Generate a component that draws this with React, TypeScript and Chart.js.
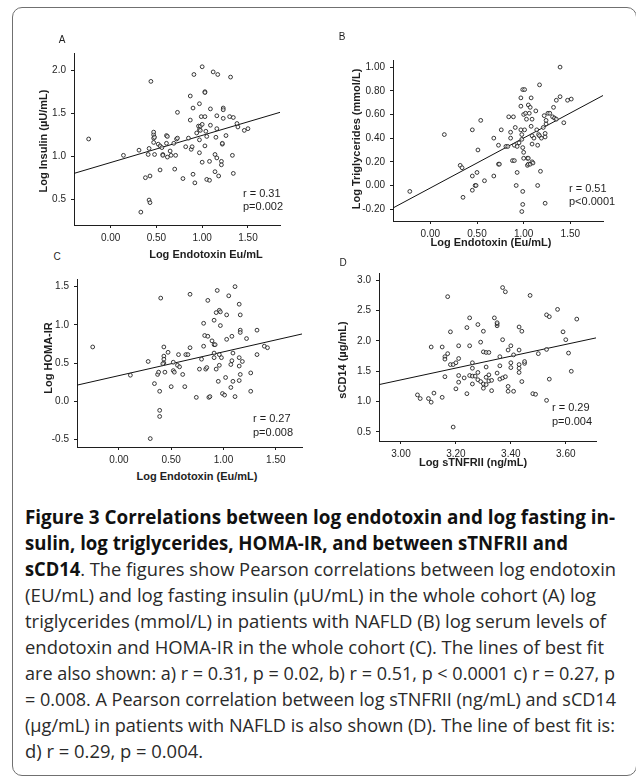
import React, { useEffect, useLayoutEffect, useRef } from "react";
import { Chart, registerables } from "chart.js";

Chart.register(...registerables);

// ---------- Panel A: log endotoxin vs log insulin ----------
const endotoxinA = [
  -0.24, 0.14, 0.31, 0.41, 0.42, 0.38, 0.43, 0.42, 0.43, 0.33,
  0.44, 0.47, 0.47, 0.47, 0.48, 0.47, 0.48, 0.52, 0.54, 0.56,
  0.57, 0.57, 0.54, 0.61, 0.61, 0.62, 0.62, 0.65, 0.66, 0.69,
  0.70, 0.71, 0.72, 0.73, 0.73, 0.79, 0.82, 0.85, 0.87, 0.87,
  0.88, 0.89, 0.90, 0.91, 0.90, 0.92, 0.94, 0.96, 0.97, 0.97,
  0.97, 0.97, 0.98, 0.99, 1.00, 1.00, 1.03, 1.03, 1.03, 1.03,
  1.04, 1.05, 1.05, 1.08, 1.08, 1.09, 1.09, 1.12, 1.14, 1.14,
  1.15, 1.16, 1.16, 1.16, 1.17, 1.18, 1.21, 1.21, 1.22, 1.23,
  1.23, 1.23, 1.26, 1.30, 1.31, 1.33, 1.34, 1.34, 1.38, 1.39,
  1.46, 1.50, 0.98, 1.00, 1.22,
];
const insulinA = [
  1.20, 1.01, 1.07, 1.02, 1.09, 0.75, 0.77, 0.49, 0.46, 0.35,
  1.87, 1.25, 1.28, 1.21, 1.22, 1.16, 1.02, 1.14, 1.12, 1.10,
  1.02, 1.01, 0.84, 1.15, 1.24, 1.23, 0.99, 1.06, 1.01, 1.15,
  0.85, 1.01, 1.20, 1.21, 1.51, 0.74, 1.11, 1.21, 1.42, 1.70,
  1.08, 1.11, 1.56, 1.95, 0.79, 0.69, 1.27, 1.35, 1.04, 1.61,
  1.19, 1.31, 1.35, 1.46, 2.04, 0.93, 1.46, 1.75, 1.74, 1.12,
  1.29, 1.23, 0.73, 0.72, 0.94, 1.36, 1.55, 1.98, 1.02, 0.82,
  1.22, 1.47, 1.32, 0.98, 1.95, 0.77, 0.94, 0.90, 1.14, 1.56,
  1.54, 1.44, 1.24, 1.46, 1.92, 1.01, 1.45, 0.80, 1.38, 1.34,
  1.30, 1.32, 1.30, 1.37, 1.15,
];
const fitXA = [-0.4, 1.85];
const fitYA = [0.8, 1.51];
const xTicksA = [0, 0.5, 1.0, 1.5];
const yTicksA = [0.5, 1.0, 1.5, 2.0];

// ---------- Panel B: log endotoxin vs log triglycerides ----------
const endotoxinB = [
  -0.22, 0.15, 0.32, 0.34, 0.35, 0.45, 0.45, 0.45, 0.48, 0.49,
  0.50, 0.51, 0.54, 0.58, 0.68, 0.68, 0.73, 0.74, 0.73, 0.76,
  0.81, 0.83, 0.84, 0.86, 0.86, 0.88, 0.89, 0.90, 0.90, 0.91,
  0.92, 0.93, 0.93, 0.95, 0.97, 0.97, 0.97, 0.98, 0.98, 0.99,
  0.99, 0.99, 0.98, 0.99, 1.01, 1.00, 1.00, 1.00, 1.01, 1.02,
  1.03, 1.04, 1.04, 1.05, 1.05, 1.05, 1.06, 1.07, 1.07, 1.08,
  1.08, 1.09, 1.09, 1.09, 1.09, 1.10, 1.11, 1.13, 1.14, 1.15,
  1.15, 1.16, 1.17, 1.17, 1.18, 1.19, 1.21, 1.22, 1.23, 1.23,
  1.23, 1.24, 1.24, 1.26, 1.28, 1.31, 1.32, 1.33, 1.35, 1.35,
  1.39, 1.39, 1.43, 1.47, 1.51,
];
const triglyceridesB = [
  -0.05, 0.43, 0.17, 0.15, -0.10, 0.08, -0.04, 0.47, 0.00, 0.00,
  0.11, 0.30, 0.55, 0.04, 0.08, 0.40, 0.18, 0.18, 0.34, 0.47,
  0.33, 0.33, 0.58, 0.40, 0.45, 0.21, 0.58, 0.34, 0.21, 0.49,
  0.00, 0.11, 0.33, 0.36, 0.74, 0.67, 0.47, 0.43, 0.39, 0.32,
  -0.05, -0.16, -0.22, 0.81, 0.81, 0.60, 0.28, 0.23, 0.47, 0.61,
  0.56, 0.23, 0.17, 0.68, 0.23, 0.18, 0.61, 0.18, 0.66, 0.74,
  0.50, 0.42, 0.35, 0.56, 0.20, 0.19, 0.40, 0.63, 0.47, 0.00,
  0.34, 0.43, 0.85, 0.42, 0.12, 0.40, 0.49, 0.59, 0.41, 0.44,
  -0.15, 0.52, 0.55, 0.61, 0.61, 0.58, 0.66, 0.57, 0.72, 0.56,
  0.75, 1.00, 0.53, 0.72, 0.73,
];
const fitXB = [-0.4, 1.85];
const fitYB = [-0.19, 0.76];
const xTicksB = [0, 0.5, 1.0, 1.5];
const yTicksB = [-0.2, 0, 0.2, 0.4, 0.6, 0.8, 1.0];

// ---------- Panel C: log endotoxin vs log HOMA-IR ----------
const endotoxinC = [
  -0.25, 0.11, 0.28, 0.34, 0.30, 0.37, 0.38, 0.39, 0.39, 0.39,
  0.40, 0.43, 0.43, 0.43, 0.43, 0.44, 0.42, 0.47, 0.50, 0.52,
  0.53, 0.52, 0.57, 0.56, 0.58, 0.61, 0.63, 0.64, 0.66, 0.68,
  0.68, 0.74, 0.77, 0.79, 0.81, 0.81, 0.82, 0.83, 0.84, 0.85,
  0.85, 0.86, 0.87, 0.89, 0.91, 0.91, 0.91, 0.91, 0.92, 0.93,
  0.93, 0.94, 0.95, 0.96, 0.96, 0.97, 0.97, 0.96, 0.98, 0.99,
  1.01, 1.02, 1.03, 1.03, 1.05, 1.07, 1.07, 1.08, 1.08, 1.09,
  1.09, 1.11, 1.11, 1.15, 1.16, 1.16, 1.16, 1.15, 1.16, 1.15,
  1.15, 1.18, 1.22, 1.26, 1.26, 1.32, 1.39, 1.42, 1.32,
];
const homaC = [
  0.71, 0.34, 0.52, 0.23, -0.49, 0.35, 0.38, 0.13, -0.12, -0.20,
  1.35, 0.71, 0.59, 0.55, 0.50, 0.38, 0.49, 0.64, 0.19, 0.40,
  0.38, 0.51, 0.61, 0.47, 0.45, 0.35, 0.19, 0.61, 0.61, 0.70,
  1.40, 0.05, 0.42, 0.55, 1.02, 0.72, 0.86, 0.42, 0.44, 1.32,
  0.85, 0.05, 0.06, 0.79, 0.63, 1.06, 0.57, 0.74, 0.74, 0.42,
  1.16, 1.45, 0.26, 0.61, 1.19, 1.17, 0.99, 0.47, 0.57, 0.10,
  0.08, 0.31, 0.81, 1.13, 1.38, 0.48, 0.18, 0.53, 0.85, 0.63,
  0.26, 1.50, 0.06, 1.27, 1.13, 0.93, 0.90, 0.46, 0.35, 0.27,
  0.57, 0.52, 0.82, 0.13, 0.37, 0.93, 0.72, 0.70, 0.61,
];
const fitXC = [-0.4, 1.75];
const fitYC = [0.21, 0.88];
const xTicksC = [0, 0.5, 1.0, 1.5];
const yTicksC = [-0.5, 0, 0.5, 1.0, 1.5];

// ---------- Panel D: log sTNFRII vs sCD14 ----------
const stnfriiD = [
  3.06, 3.07, 3.10, 3.11, 3.12, 3.11, 3.15, 3.15, 3.16, 3.16,
  3.16, 3.17, 3.17, 3.18, 3.18, 3.19, 3.19, 3.20, 3.20, 3.21,
  3.21, 3.21, 3.21, 3.23, 3.24, 3.24, 3.25, 3.25, 3.25, 3.26,
  3.26, 3.26, 3.26, 3.27, 3.28, 3.28, 3.28, 3.29, 3.29, 3.30,
  3.30, 3.30, 3.30, 3.31, 3.31, 3.31, 3.31, 3.32, 3.32, 3.32,
  3.33, 3.33, 3.34, 3.35, 3.35, 3.35, 3.35, 3.36, 3.36, 3.36,
  3.37, 3.37, 3.38, 3.37, 3.38, 3.39, 3.39, 3.39, 3.40, 3.40,
  3.40, 3.41, 3.41, 3.43, 3.43, 3.43, 3.43, 3.43, 3.44, 3.44,
  3.45, 3.45, 3.47, 3.48, 3.49, 3.50, 3.53, 3.53, 3.54, 3.53,
  3.54, 3.57, 3.59, 3.60, 3.61, 3.62, 3.64,
];
const scd14D = [
  1.11, 1.05, 1.05, 0.99, 1.14, 1.90, 1.90, 1.07, 1.41, 1.74,
  1.70, 1.79, 2.73, 2.15, 1.61, 1.61, 0.58, 1.64, 1.21, 1.71,
  1.92, 1.43, 1.32, 1.39, 1.13, 2.22, 1.43, 2.38, 1.92, 1.42,
  1.55, 1.29, 1.64, 1.42, 1.36, 1.48, 2.27, 1.98, 1.33, 1.22,
  2.16, 1.82, 1.29, 1.28, 1.57, 1.81, 1.40, 1.81, 1.44, 1.34,
  1.35, 1.18, 2.38, 2.25, 2.28, 1.47, 2.30, 1.37, 1.74, 1.59,
  2.02, 2.88, 2.81, 1.39, 1.41, 1.85, 1.25, 1.17, 1.64, 1.56,
  1.92, 1.77, 1.17, 1.85, 1.61, 2.23, 1.55, 1.48, 1.33, 2.16,
  1.63, 1.66, 2.75, 1.13, 1.12, 1.79, 1.02, 2.43, 2.40, 1.86,
  1.37, 2.52, 2.15, 2.02, 1.80, 1.50, 2.36,
];
const fitXD = [2.92, 3.71];
const fitYD = [1.28, 2.05];
const xTicksD = [3.0, 3.2, 3.4, 3.6];
const yTicksD = [0.5, 1.0, 1.5, 2.0, 2.5, 3.0];

// ---------- Caption ----------
const captionLines: { bold: string; text: string }[] = [
  { bold: "Figure 3 Correlations between log endotoxin and log fasting in-", text: "" },
  { bold: "sulin, log triglycerides, HOMA-IR, and between sTNFRII and", text: "" },
  { bold: "sCD14", text: ". The figures show Pearson correlations between log endotoxin" },
  { bold: "", text: "(EU/mL) and log fasting insulin (\u00b5U/mL) in the whole cohort (A) log" },
  { bold: "", text: "triglycerides (mmol/L) in patients with NAFLD (B) log serum levels of" },
  { bold: "", text: "endotoxin and HOMA-IR in the whole cohort (C). The lines of best fit" },
  { bold: "", text: "are also shown: a) r = 0.31, p = 0.02, b) r = 0.51, p < 0.0001 c) r = 0.27, p" },
  { bold: "", text: "= 0.008. A Pearson correlation between log sTNFRII (ng/mL) and sCD14" },
  { bold: "", text: "(\u00b5g/mL) in patients with NAFLD is also shown (D). The line of best fit is:" },
  { bold: "", text: "d) r = 0.29, p = 0.004." },
];

// layout: right edge (page px) where each caption line ends in the reference
const CAPTION_LEFT = 25;
const CAPTION_RIGHT_EDGES = [615, 568, 616, 596, 606, 604, 615, 616, 615, 203];

const CHART_FONT = '"Liberation Sans", Arial, Helvetica, sans-serif';
const INK = "#1e1e1e";

type PanelProps = {
  xs: number[];
  ys: number[];
  fitX: number[];
  fitY: number[];
  xTicks: number[];
  yTicks: number[];
  xDec: number;
  yDec: number;
  xMin: number;
  xMax: number;
  yMin: number;
  yMax: number;
  area: { l: number; t: number; r: number; b: number };
  yW: number;
};

const PAD_T = 14;
const PAD_R = 6;
const X_H = 20;

function ScatterPanel(p: PanelProps) {
  const ref = useRef<HTMLCanvasElement>(null);
  const left = p.area.l - p.yW;
  const top = p.area.t - PAD_T;
  const width = p.area.r + PAD_R - left;
  const height = p.area.b + X_H - top;

  useEffect(() => {
    const axisCommon = {
      type: "linear" as const,
      grid: {
        display: true,
        drawOnChartArea: false,
        drawTicks: true,
        tickLength: 3,
        color: INK,
        lineWidth: 1,
      },
      border: { display: true, color: INK, width: 1 },
    };
    const chart = new Chart(ref.current!, {
      type: "scatter",
      data: {
        datasets: [
          {
            data: p.xs.map((x, i) => ({ x, y: p.ys[i] })),
            pointRadius: 1.9,
            pointBorderWidth: 0.9,
            pointBorderColor: "#222",
            pointBackgroundColor: "rgba(255,255,255,0.6)",
            showLine: false,
          },
          {
            data: p.fitX.map((x, i) => ({ x, y: p.fitY[i] })),
            showLine: true,
            borderColor: "#111",
            borderWidth: 1,
            pointRadius: 0,
            fill: false,
          },
        ],
      },
      options: {
        animation: false,
        responsive: false,
        maintainAspectRatio: false,
        events: [],
        layout: { padding: { top: PAD_T, right: PAD_R, left: 0, bottom: 0 } },
        plugins: { legend: { display: false }, tooltip: { enabled: false } },
        scales: {
          x: {
            ...axisCommon,
            min: p.xMin,
            max: p.xMax,
            afterBuildTicks: (s: any) => {
              s.ticks = p.xTicks.map((v) => ({ value: v }));
            },
            afterFit: (s: any) => {
              s.height = X_H;
            },
            ticks: {
              autoSkip: false,
              maxRotation: 0,
              padding: 4,
              color: INK,
              font: { family: CHART_FONT, size: 10 },
              callback: (v: any) => Number(v).toFixed(p.xDec),
            },
          },
          y: {
            ...axisCommon,
            min: p.yMin,
            max: p.yMax,
            afterBuildTicks: (s: any) => {
              s.ticks = p.yTicks.map((v) => ({ value: v }));
            },
            afterFit: (s: any) => {
              s.width = p.yW;
            },
            ticks: {
              autoSkip: false,
              padding: 5,
              color: INK,
              font: { family: CHART_FONT, size: 10 },
              callback: (v: any) => Number(v).toFixed(p.yDec),
            },
          },
        },
      },
    } as any);
    return () => chart.destroy();
  }, []);

  return (
    <canvas
      ref={ref}
      width={width}
      height={height}
      style={{ position: "absolute", left, top, width, height }}
    />
  );
}

function Txt(props: {
  x: number;
  y: number;
  children: React.ReactNode;
  bold?: boolean;
  size?: number;
  mode?: "center" | "left" | "vertical";
}) {
  const mode = props.mode || "center";
  const transform =
    mode === "vertical"
      ? "translate(-50%,-50%) rotate(-90deg)"
      : mode === "left"
      ? "translate(0,-50%)"
      : "translate(-50%,-50%)";
  return (
    <div
      style={{
        position: "absolute",
        left: props.x,
        top: props.y,
        transform,
        whiteSpace: "nowrap",
        fontFamily: CHART_FONT,
        fontSize: props.size || 11,
        fontWeight: props.bold ? 700 : 400,
        lineHeight: 1,
        color: INK,
      }}
    >
      {props.children}
    </div>
  );
}

function Caption() {
  const ref = useRef<HTMLDivElement>(null);
  useLayoutEffect(() => {
    const el = ref.current;
    if (!el) return;
    const spans = Array.from(el.querySelectorAll("[data-line]")) as HTMLElement[];
    spans.forEach((s, i) => {
      const w = s.getBoundingClientRect().width;
      const target = CAPTION_RIGHT_EDGES[i] - CAPTION_LEFT;
      if (w > 0) s.style.transform = `scaleX(${target / w})`;
    });
  }, []);
  return (
    <div
      ref={ref}
      style={{
        position: "absolute",
        left: CAPTION_LEFT,
        top: 504,
        fontFamily: '"Open Sans", "Noto Sans", sans-serif',
        fontSize: 19,
        lineHeight: "26px",
        color: "#2a2a2a",
        whiteSpace: "nowrap",
      }}
    >
      {captionLines.map((ln, i) => (
        <div key={i} style={{ height: 26 }}>
          <span data-line="1" style={{ display: "inline-block", transformOrigin: "0 0" }}>
            {ln.bold ? <b style={{ fontWeight: 700, color: "#111" }}>{ln.bold}</b> : null}
            {ln.text}
          </span>
        </div>
      ))}
    </div>
  );
}

export default function App() {
  return (
    <div
      style={{
        position: "absolute",
        left: 0,
        top: 0,
        width: 636,
        height: 779,
        overflow: "hidden",
        background: "#fff",
      }}
    >
      <div
        style={{
          position: "absolute",
          left: 12,
          top: 7,
          width: 625,
          height: 769,
          border: "1px solid #707070",
          borderRadius: 10,
          boxSizing: "border-box",
        }}
      />

      <ScatterPanel
        xs={endotoxinA} ys={insulinA} fitX={fitXA} fitY={fitYA}
        xTicks={xTicksA} yTicks={yTicksA} xDec={2} yDec={1}
        xMin={-0.4} xMax={1.85} yMin={0.2} yMax={2.2}
        area={{ l: 74, t: 53, r: 280, b: 225 }} yW={44}
      />
      <ScatterPanel
        xs={endotoxinB} ys={triglyceridesB} fitX={fitXB} fitY={fitYB}
        xTicks={xTicksB} yTicks={yTicksB} xDec={2} yDec={2}
        xMin={-0.4} xMax={1.85} yMin={-0.3} yMax={1.06}
        area={{ l: 393, t: 60, r: 603, b: 221 }} yW={48}
      />
      <ScatterPanel
        xs={endotoxinC} ys={homaC} fitX={fitXC} fitY={fitYC}
        xTicks={xTicksC} yTicks={yTicksC} xDec={2} yDec={1}
        xMin={-0.4} xMax={1.75} yMin={-0.6} yMax={1.6}
        area={{ l: 77, t: 279, r: 302, b: 447 }} yW={44}
      />
      <ScatterPanel
        xs={stnfriiD} ys={scd14D} fitX={fitXD} fitY={fitYD}
        xTicks={xTicksD} yTicks={yTicksD} xDec={2} yDec={1}
        xMin={2.92} xMax={3.71} yMin={0.35} yMax={3.12}
        area={{ l: 379, t: 273, r: 596, b: 441 }} yW={44}
      />

      {/* panel letters */}
      <Txt x={62} y={40} size={10}>A</Txt>
      <Txt x={342} y={37} size={10}>B</Txt>
      <Txt x={57} y={257} size={10}>C</Txt>
      <Txt x={343} y={263} size={10}>D</Txt>

      {/* axis titles */}
      <Txt x={43} y={141} bold mode="vertical">Log Insulin (µU/mL)</Txt>
      <Txt x={206} y={254} bold>Log Endotoxin Eu/mL</Txt>
      <Txt x={356} y={139} bold mode="vertical">Log Triglycerides (mmol/L)</Txt>
      <Txt x={491} y={242} bold>Log Endotoxin (Eu/mL)</Txt>
      <Txt x={48} y={358} bold mode="vertical">Log HOMA-IR</Txt>
      <Txt x={197} y={476} bold>Log Endotoxin (Eu/mL)</Txt>
      <Txt x={342} y={360} bold mode="vertical">sCD14 (µg/mL)</Txt>
      <Txt x={473} y={462} bold>Log sTNFRII (ng/mL)</Txt>

      {/* correlation annotations */}
      <Txt x={243} y={193} mode="left">r = 0.31</Txt>
      <Txt x={243} y={206} mode="left">p=0.002</Txt>
      <Txt x={569} y={188} mode="left">r = 0.51</Txt>
      <Txt x={569} y={201} mode="left">p&lt;0.0001</Txt>
      <Txt x={253} y={418} mode="left">r = 0.27</Txt>
      <Txt x={253} y={432} mode="left">p=0.008</Txt>
      <Txt x={552} y={407} mode="left">r = 0.29</Txt>
      <Txt x={552} y={421} mode="left">p=0.004</Txt>

      <Caption />
    </div>
  );
}
